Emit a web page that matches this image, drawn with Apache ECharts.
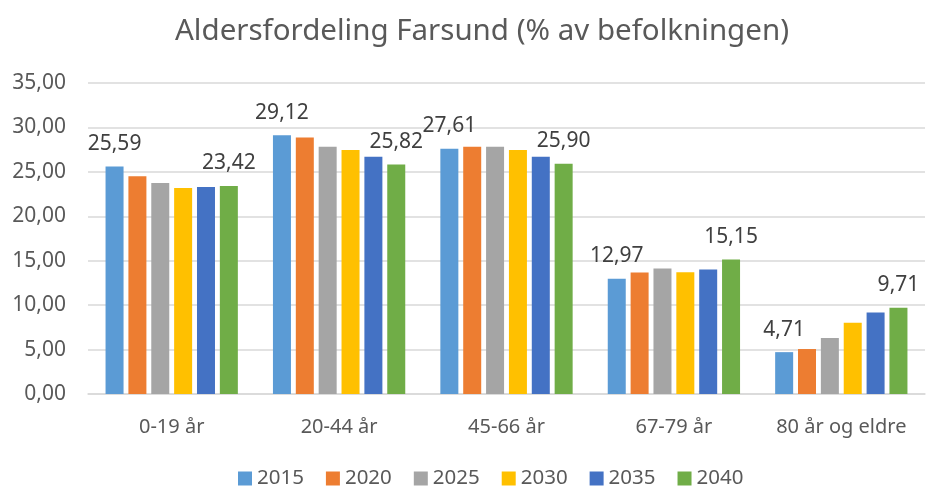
<!DOCTYPE html>
<html>
<head>
<meta charset="utf-8">
<script src="https://cdn.jsdelivr.net/npm/echarts@6/dist/echarts.min.js"></script>
<style>
  html, body { margin: 0; padding: 0; background: #fff; }
  #chart { width: 935px; height: 487px; }
</style>
</head>
<body>
<div id="chart"></div>
<script>
// aldersgrupper
const categories = ['0-19 år', '20-44 år', '45-66 år', '67-79 år', '80 år og eldre']
const years = ['2015', '2020', '2025', '2030', '2035', '2040']

const v2015 = [25.59, 29.12, 27.61, 12.97, 4.71]
const v2020 = [24.5, 28.88, 27.83, 13.67, 5.06]
const v2025 = [23.75, 27.83, 27.83, 14.12, 6.29]
const v2030 = [23.18, 27.45, 27.45, 13.71, 8.01]
const v2035 = [23.3, 26.7, 26.7, 14.0, 9.18]
const v2040 = [23.42, 25.82, 25.9, 15.15, 9.71]

const seriesValues = [v2015, v2020, v2025, v2030, v2035, v2040]
const colors = ['#5b9bd5', '#ed7d31', '#a5a5a5', '#ffc000', '#4472c4', '#70ad47']
// bare første og siste år har verdietiketter
const labelled = ['2015', '2040']

const fmt = v => v.toFixed(2).replace('.', ',')
const font = 'Noto Sans'

const chart = echarts.init(document.getElementById('chart'))

chart.setOption({
  animation: false,
  textStyle: { fontFamily: font },
  title: {
    text: 'Aldersfordeling Farsund (% av befolkningen)',
    left: 477,
    textAlign: 'center',
    top: 12,
    textStyle: { color: '#595959', fontSize: 29.5, fontWeight: 'normal', fontFamily: font }
  },
  legend: {
    data: years,
    top: 463,
    left: 233,
    itemWidth: 14,
    itemHeight: 14,
    itemGap: 22,
    icon: 'rect',
    textStyle: { color: '#595959', fontSize: 20.5, fontFamily: font }
  },
  grid: {
    left: 88,
    right: 10,
    top: 83,
    bottom: 93
  },
  xAxis: {
    type: 'category',
    data: categories,
    axisTick: { show: false },
    axisLine: { lineStyle: { color: '#d9d9d9', width: 1.5 } },
    axisLabel: { color: '#595959', fontSize: 20, margin: 23, interval: 0, fontFamily: font }
  },
  yAxis: {
    type: 'value',
    min: 0,
    max: 35,
    interval: 5,
    axisLabel: {
      color: '#595959',
      fontSize: 21,
      margin: 22,
      fontFamily: font,
      formatter: fmt
    },
    splitLine: { lineStyle: { color: '#d9d9d9', width: 1.5 } }
  },
  series: years.map((y, i) => ({
    name: y,
    type: 'bar',
    data: seriesValues[i],
    barWidth: 18,
    barGap: '27%',
    itemStyle: { color: colors[i] },
    label: {
      show: labelled.includes(y),
      position: 'top',
      distance: 12,
      color: '#404040',
      fontSize: 21,
      fontFamily: font,
      formatter: p => fmt(p.value)
    }
  }))
})
</script>
</body>
</html>
